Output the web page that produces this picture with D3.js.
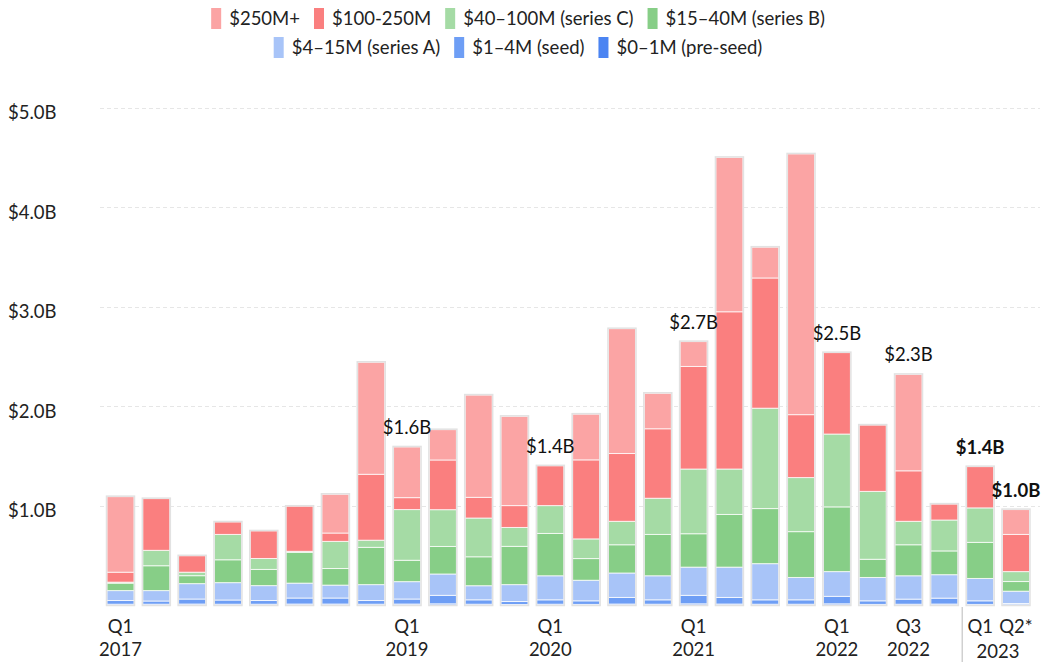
<!DOCTYPE html>
<html>
<head>
<meta charset="utf-8">
<script src="https://cdn.jsdelivr.net/npm/d3@7"></script>
<style>
  body { margin: 0; background: #fff; }
  svg { font-family: "Lato", sans-serif; }
  .grid line { stroke: #e6e6e6; stroke-dasharray: 4,3; }
</style>
</head>
<body>
<svg width="1041" height="662"></svg>
<script>
// data, in $B
var quarters = ["2017Q1","2017Q2","2017Q3","2017Q4","2018Q1","2018Q2","2018Q3","2018Q4",
  "2019Q1","2019Q2","2019Q3","2019Q4","2020Q1","2020Q2","2020Q3","2020Q4",
  "2021Q1","2021Q2","2021Q3","2021Q4","2022Q1","2022Q2","2022Q3","2022Q4","2023Q1","2023Q2"];

var preSeed = [0.008,0.008,0.010,0.008,0.008,0.010,0.010,0.008,0.010,0.012,0.008,0.005,0.008,
  0.006,0.010,0.008,0.012,0.010,0.008,0.008,0.012,0.006,0.008,0.010,0.006,0.003];
var seed = [0.037,0.032,0.050,0.042,0.037,0.060,0.060,0.037,0.050,0.085,0.044,0.030,0.044,
  0.036,0.066,0.044,0.085,0.066,0.044,0.044,0.075,0.036,0.051,0.059,0.036,0.012];
var seriesA = [0.100,0.105,0.155,0.175,0.150,0.150,0.130,0.160,0.175,0.215,0.142,0.170,0.242,
  0.207,0.246,0.242,0.284,0.305,0.364,0.225,0.249,0.235,0.235,0.236,0.225,0.124];
var seriesB = [0.075,0.250,0.080,0.230,0.163,0.310,0.167,0.375,0.215,0.277,0.291,0.385,0.426,
  0.218,0.284,0.416,0.336,0.530,0.554,0.461,0.651,0.183,0.312,0.239,0.363,0.097];
var seriesC = [0.010,0.155,0.035,0.255,0.110,0.010,0.273,0.072,0.510,0.370,0.390,0.190,0.280,
  0.198,0.236,0.364,0.651,0.457,1.010,0.544,0.733,0.683,0.236,0.311,0.347,0.100];
var mid = [0.100,0.520,0.165,0.125,0.277,0.454,0.084,0.663,0.120,0.500,0.208,0.220,0.400,
  0.795,0.682,0.699,1.032,1.582,1.310,0.633,0.819,0.667,0.508,0.160,0.415,0.374];
var big = [0.760,0,0,0,0,0,0.390,1.127,0.510,0.305,1.029,0.898,0,
  0.460,1.256,0.357,0.250,1.553,0.310,2.623,0,0,0.970,0,0,0.250];

var keys = ["preSeed","seed","seriesA","seriesB","seriesC","mid","big"];
var keyNames = {
  big: "$250M+", mid: "$100-250M", seriesC: "$40\u2013100M (series C)", seriesB: "$15\u201340M (series B)",
  seriesA: "$4\u201315M (series A)", seed: "$1\u20134M (seed)", preSeed: "$0\u20131M (pre-seed)"
};
var colors = ["#4b84f2","#6e9ef5","#a8c4f8","#87ce87","#a5dba5","#fa7f7f","#fba4a4"];

var totalLabels = {"2019Q1": "$1.6B", "2020Q1": "$1.4B", "2021Q1": "$2.7B", "2022Q1": "$2.5B",
  "2022Q3": "$2.3B", "2023Q1": "$1.4B", "2023Q2": "$1.0B"};
var boldLabels = ["2023Q1","2023Q2"];

var tickQuarter = {"2017Q1": "Q1", "2019Q1": "Q1", "2020Q1": "Q1", "2021Q1": "Q1",
  "2022Q1": "Q1", "2022Q3": "Q3", "2023Q1": "Q1", "2023Q2": "Q2*"};
var tickYear = {"2017Q1": "2017", "2019Q1": "2019", "2020Q1": "2020", "2021Q1": "2021",
  "2022Q1": "2022", "2022Q3": "2022"};
var yTicks = [1, 2, 3, 4, 5];

var legendRows = [["big","mid","seriesC","seriesB"], ["seriesA","seed","preSeed"]];

var fontSize = 18.5;

var svg = d3.select("svg");

var data = quarters.map(function(q, i) {
  return {q: q, preSeed: preSeed[i], seed: seed[i], seriesA: seriesA[i], seriesB: seriesB[i],
    seriesC: seriesC[i], mid: mid[i], big: big[i]};
});

var x = d3.scaleBand().domain(quarters).range([102.6, 1033.9]).paddingInner(0.246).paddingOuter(0.123);
var y = d3.scaleLinear().domain([0, 5]).range([605, 108]);
var z = d3.scaleOrdinal().domain(keys).range(colors);

var stacked = d3.stack().keys(keys)(data);

// grid + y labels
var grid = svg.append("g").attr("class", "grid");
grid.selectAll("line")
  .data(yTicks)
  .enter().append("line")
    .attr("x1", 100)
    .attr("x2", 1040)
    .attr("y1", function(d) { return Math.round(y(d)) + 0.5; })
    .attr("y2", function(d) { return Math.round(y(d)) + 0.5; });

svg.append("g")
  .selectAll("text")
  .data(yTicks)
  .enter().append("text")
    .attr("x", 8)
    .attr("y", function(d) { return y(d) + 5; })
    .attr("dy", "0.35em")
    .attr("font-size", fontSize)
    .attr("fill", "#222")
    .text(function(d) { return "$" + d.toFixed(1) + "B"; });

// bars
svg.append("g")
  .selectAll("g")
  .data(stacked)
  .enter().append("g")
    .attr("fill", function(d) { return z(d.key); })
  .selectAll("rect")
  .data(function(d) { return d.filter(function(s) { return s[1] - s[0] > 0; }); })
  .enter().append("rect")
    .attr("x", function(d) { return x(d.data.q); })
    .attr("width", x.bandwidth())
    .attr("y", function(d) { return y(d[1]); })
    .attr("height", function(d) { return y(d[0]) - y(d[1]); })
    .attr("stroke", "rgba(255,255,255,0.75)")
    .attr("stroke-width", 1);

var tops = stacked[stacked.length - 1];

svg.append("g")
  .selectAll("rect")
  .data(tops)
  .enter().append("rect")
    .attr("x", function(d) { return x(d.data.q) - 0.5; })
    .attr("width", x.bandwidth() + 1)
    .attr("y", function(d) { return y(d[1]) - 0.5; })
    .attr("height", function(d) { return y(0) - y(d[1]) + 1; })
    .attr("fill", "none")
    .attr("stroke", "#e2e2e2")
    .attr("stroke-width", 1.5);

// total labels
svg.append("g")
  .selectAll("text")
  .data(tops.filter(function(d) { return totalLabels[d.data.q]; }))
  .enter().append("text")
    .attr("x", function(d) { return x(d.data.q) + x.bandwidth() / 2; })
    .attr("y", function(d) { return y(d[1]) - 13; })
    .attr("text-anchor", "middle")
    .attr("font-size", fontSize)
    .attr("font-weight", function(d) { return boldLabels.indexOf(d.data.q) >= 0 ? "bold" : "normal"; })
    .attr("fill", "#111")
    .text(function(d) { return totalLabels[d.data.q]; });

// x labels
var xl = svg.append("g")
  .attr("font-size", fontSize)
  .attr("fill", "#222")
  .attr("text-anchor", "middle");

xl.selectAll(".q")
  .data(quarters.filter(function(q) { return tickQuarter[q]; }))
  .enter().append("text")
    .attr("class", "q")
    .attr("x", function(q) { return x(q) + x.bandwidth() / 2; })
    .attr("y", 633)
    .text(function(q) { return tickQuarter[q]; });

xl.selectAll(".yr")
  .data(quarters.filter(function(q) { return tickYear[q]; }))
  .enter().append("text")
    .attr("class", "yr")
    .attr("x", function(q) { return x(q) + x.bandwidth() / 2; })
    .attr("y", 656)
    .text(function(q) { return tickYear[q]; });

xl.append("text")
  .attr("x", (x("2023Q1") + x("2023Q2") + x.bandwidth()) / 2)
  .attr("y", 658)
  .text("2023");

svg.append("line")
  .attr("x1", x("2023Q1") - (x.step() - x.bandwidth()) / 2)
  .attr("x2", x("2023Q1") - (x.step() - x.bandwidth()) / 2)
  .attr("y1", 607)
  .attr("y2", 662)
  .attr("stroke", "#d0d0d0")
  .attr("stroke-width", 1.5);

// legend, rows centered
var legend = svg.append("g").attr("font-size", fontSize).attr("fill", "#222");

legendRows.forEach(function(row, r) {
  var g = legend.append("g");
  var cx = 0;
  row.forEach(function(k) {
    g.append("rect")
      .attr("x", cx)
      .attr("y", -11)
      .attr("width", 10)
      .attr("height", 21)
      .attr("fill", z(k));
    var t = g.append("text")
      .attr("x", cx + 18)
      .attr("dy", "0.35em")
      .text(keyNames[k]);
    cx += 18 + t.node().getComputedTextLength() + 14;
  });
  var w = cx - 14;
  g.attr("transform", "translate(" + (518 - w / 2) + "," + (19 + r * 29) + ")");
});
</script>
</body>
</html>
